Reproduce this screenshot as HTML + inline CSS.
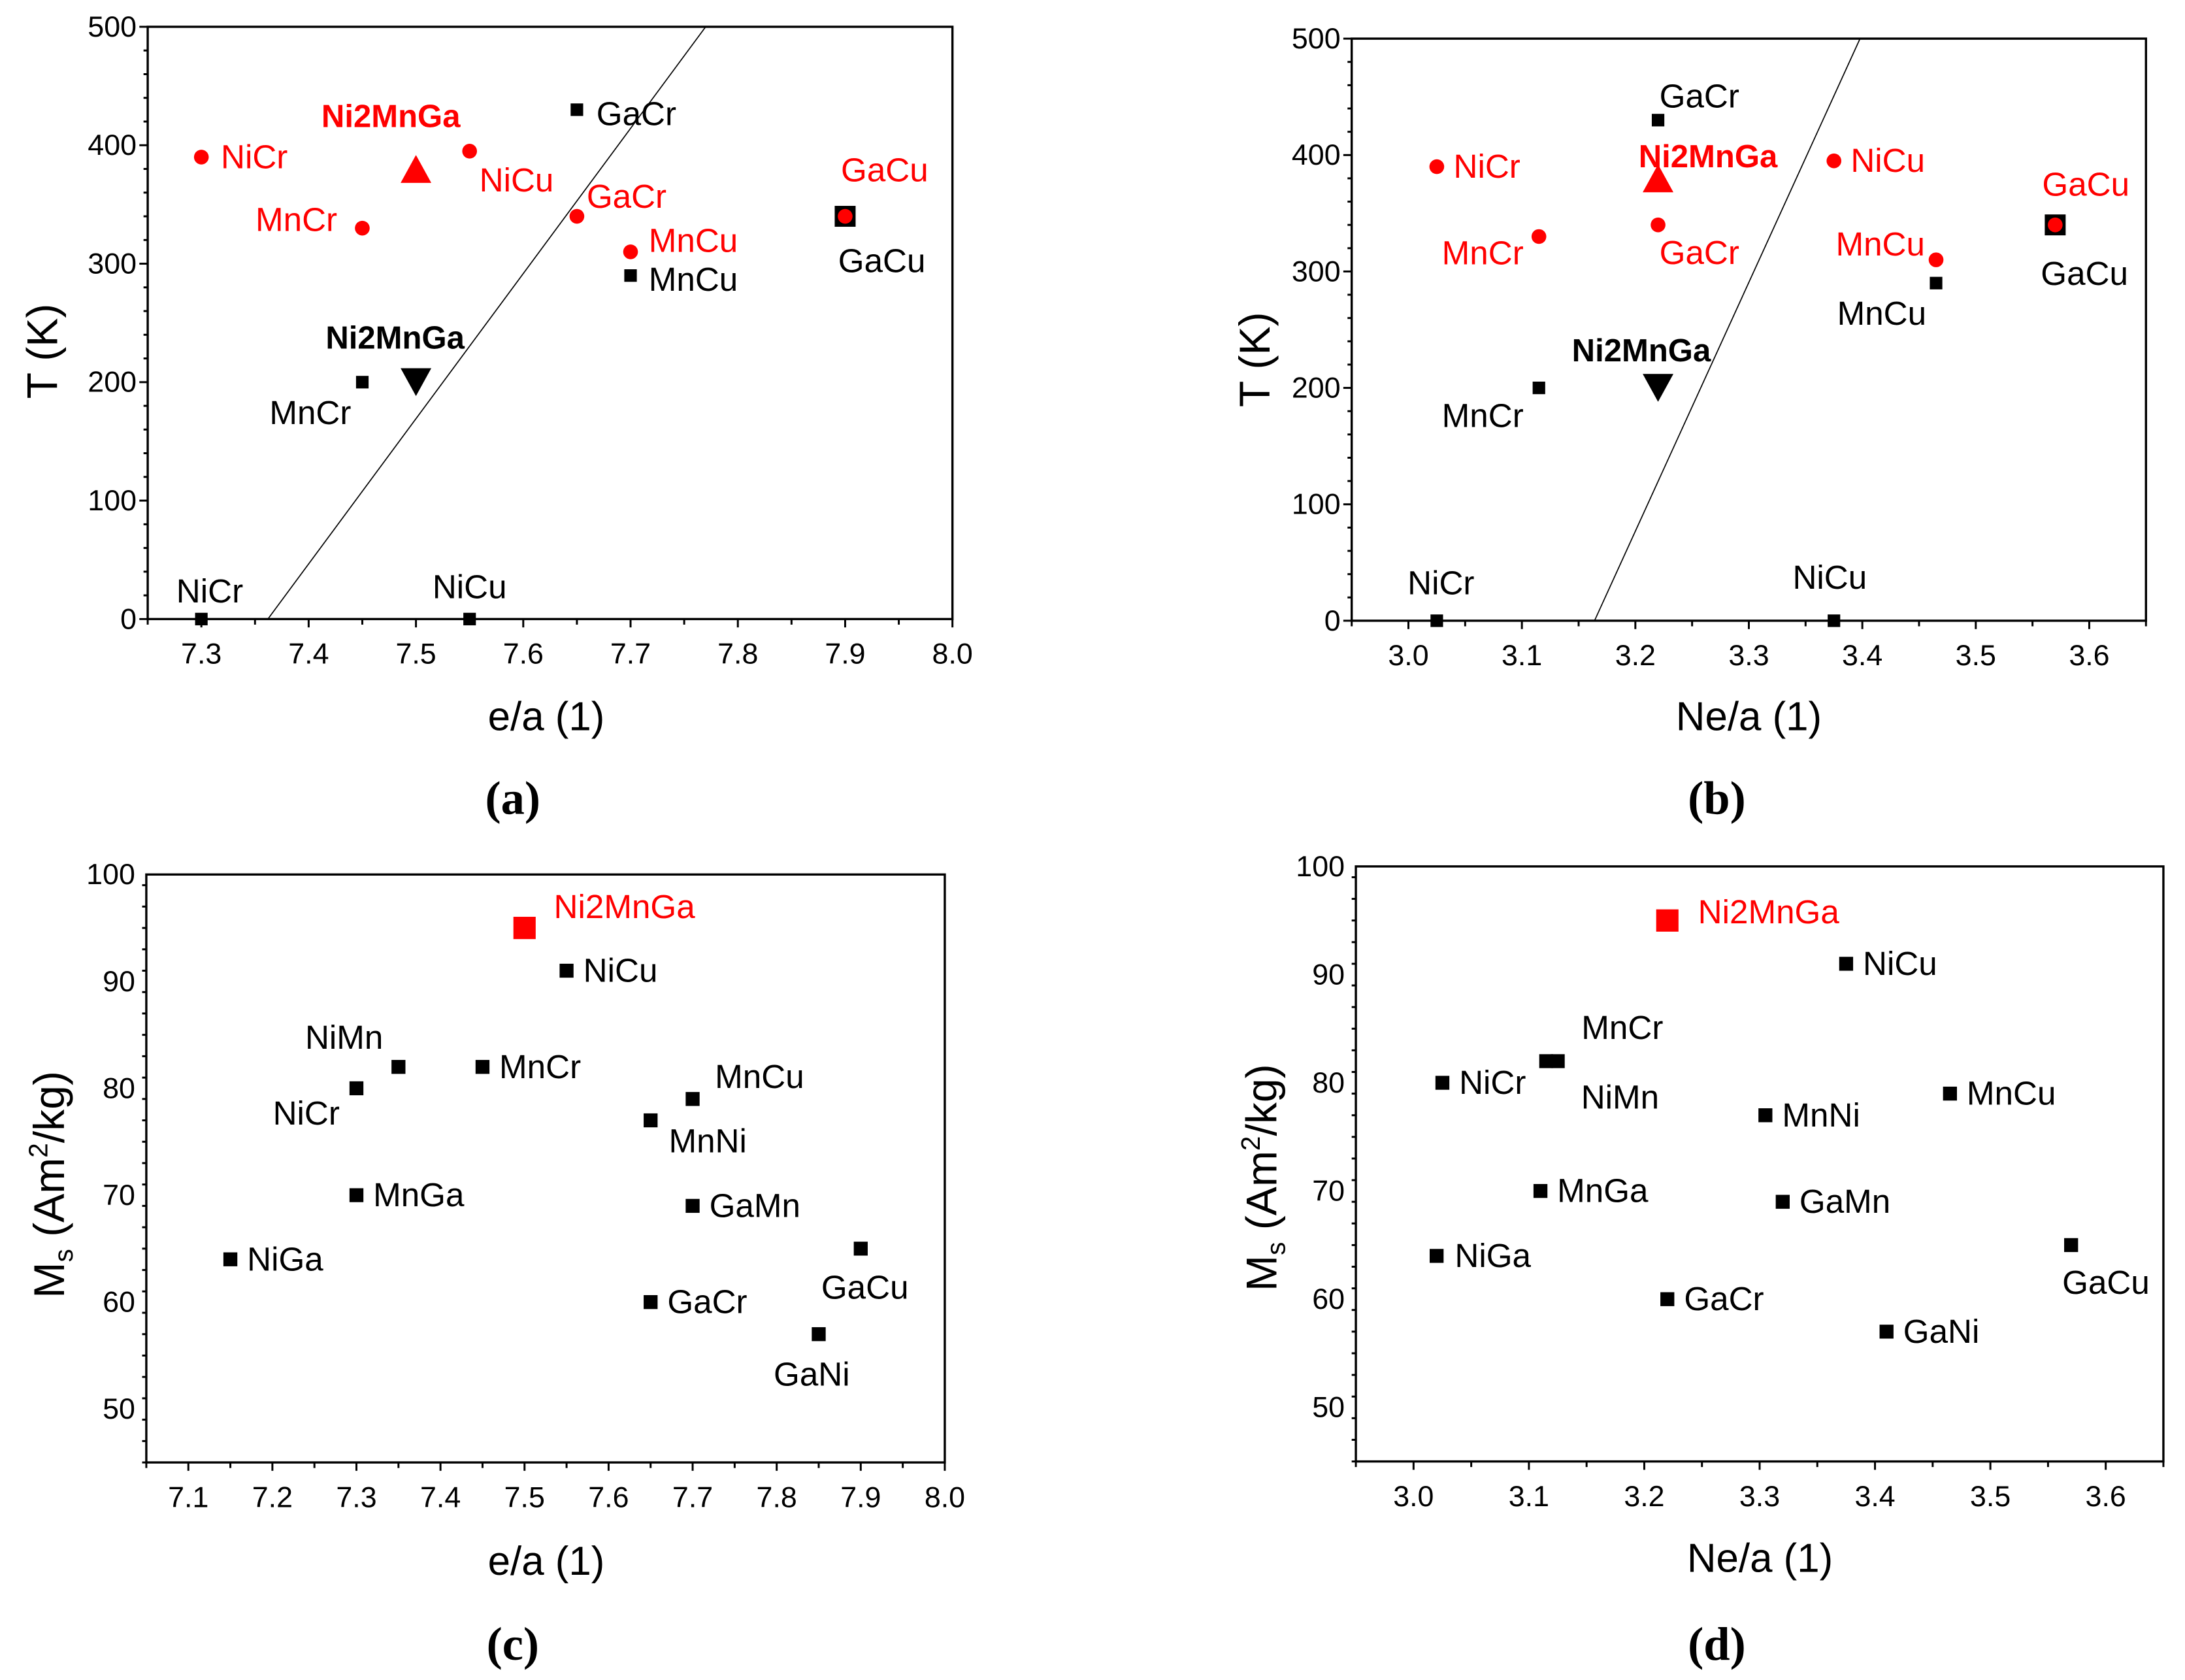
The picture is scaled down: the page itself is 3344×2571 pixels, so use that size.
<!DOCTYPE html>
<html><head><meta charset="utf-8"><style>
html,body{margin:0;padding:0;background:#fff;}
svg{display:block;}
text{font-family:"Liberation Sans",Arial,sans-serif;}
text.serif{font-family:"Liberation Serif",serif;}
</style></head><body>
<svg id="fig" xmlns="http://www.w3.org/2000/svg" width="3344" height="2571" viewBox="0 0 1568 1205.5"></svg>
<script>
// ---------- data ----------
// Panel (a): T vs e/a
const aRedX = [7.3, 7.45, 7.55, 7.65, 7.7, 7.9];
const aRedY = [390, 330, 395, 340, 310, 340];
const aRedLabels = ["NiCr","MnCr","NiCu","GaCr","MnCu","GaCu"];
const aBlkX = [7.65, 7.7, 7.45, 7.3, 7.55];
const aBlkY = [430, 290, 200, 0, 0];
const aBlkLabels = ["GaCr","MnCu","MnCr","NiCr","NiCu"];
const aBigX = [7.9]; const aBigY = [340]; const aBigLabels = ["GaCu"];
const aUpX = [7.5]; const aUpY = [380];
const aDownX = [7.5]; const aDownY = [200];
const aLineX = [7.362, 7.770]; const aLineY = [0, 500];
const aXTicks = [7.3,7.4,7.5,7.6,7.7,7.8,7.9,8.0];
const aXTickLabels = ["7.3","7.4","7.5","7.6","7.7","7.8","7.9","8.0"];
const aYTicks = [0,100,200,300,400,500];
const aYTickLabels = ["0","100","200","300","400","500"];
// Panel (b): T vs Ne/a
const bRedX = [3.025, 3.115, 3.22, 3.375, 3.465, 3.57];
const bRedY = [390, 330, 340, 395, 310, 340];
const bRedLabels = ["NiCr","MnCr","GaCr","NiCu","MnCu","GaCu"];
const bBlkX = [3.22, 3.465, 3.115, 3.025, 3.375];
const bBlkY = [430, 290, 200, 0, 0];
const bBlkLabels = ["GaCr","MnCu","MnCr","NiCr","NiCu"];
const bBigX = [3.57]; const bBigY = [340]; const bBigLabels = ["GaCu"];
const bUpX = [3.22]; const bUpY = [380];
const bDownX = [3.22]; const bDownY = [200];
const bLineX = [3.164, 3.398]; const bLineY = [0, 500];
const bXTicks = [3.0,3.1,3.2,3.3,3.4,3.5,3.6];
const bXTickLabels = ["3.0","3.1","3.2","3.3","3.4","3.5","3.6"];
const bYTicks = [0,100,200,300,400,500];
const bYTickLabels = ["0","100","200","300","400","500"];
// Panel (c): Ms vs e/a
const cX = [7.55, 7.35, 7.45, 7.3, 7.7, 7.65, 7.3, 7.7, 7.15, 7.9, 7.65, 7.85];
const cY = [91, 82, 82, 80, 79, 77, 70, 69, 64, 65, 60, 57];
const cLabels = ["NiCu","NiMn","MnCr","NiCr","MnCu","MnNi","MnGa","GaMn","NiGa","GaCu","GaCr","GaNi"];
const cRefX = [7.5]; const cRefY = [95];
const cXTicks = [7.1,7.2,7.3,7.4,7.5,7.6,7.7,7.8,7.9,8.0];
const cXTickLabels = ["7.1","7.2","7.3","7.4","7.5","7.6","7.7","7.8","7.9","8.0"];
const cYTicks = [50,60,70,80,90,100];
const cYTickLabels = ["50","60","70","80","90","100"];
// Panel (d): Ms vs Ne/a
const dX = [3.375, 3.125, 3.115, 3.025, 3.465, 3.305, 3.11, 3.32, 3.02, 3.57, 3.22, 3.41];
const dY = [91, 82, 82, 80, 79, 77, 70, 69, 64, 65, 60, 57];
const dLabels = ["NiCu","MnCr","NiMn","NiCr","MnCu","MnNi","MnGa","GaMn","NiGa","GaCu","GaCr","GaNi"];
const dRefX = [3.22]; const dRefY = [95];
const dXTicks = [3.0,3.1,3.2,3.3,3.4,3.5,3.6];
const dXTickLabels = ["3.0","3.1","3.2","3.3","3.4","3.5","3.6"];
const dYTicks = [50,60,70,80,90,100];
const dYTickLabels = ["50","60","70","80","90","100"];

// ---------- label offsets (style, px) ----------
const aRedOff = [[14,8,"start"],[-18,2,"end"],[7,29,"start"],[7,-6,"start"],[13,0,"start"],[-3,-25,"start"]];
const aBlkOff = [[14,11,"start"],[13,11,"start"],[-8,30,"end"],[6,-12,"middle"],[0,-15,"middle"]];
const aBigOff = [[-5,40,"start"]];
const bRedOff = [[12,8,"start"],[-11,20,"end"],[1,28,"start"],[12,8,"start"],[-8,-3,"end"],[22,-21,"middle"]];
const bBlkOff = [[1,-9,"start"],[-39,30,"middle"],[-11,28,"end"],[3,-19,"middle"],[-3,-23,"middle"]];
const bBigOff = [[21,43,"middle"]];
const cOff = [[12,8,"start"],[-11,-13,"end"],[12,8,"start"],[-12,26,"end"],[16,-8,"start"],[13,23,"start"],[12,8,"start"],[12,8,"start"],[12,8,"start"],[3,36,"middle"],[12,8,"start"],[-5,37,"middle"]];
const dOff = [[12,8,"start"],[17,-16,"start"],[25,34,"start"],[12,8,"start"],[12,8,"start"],[12,8,"start"],[12,8,"start"],[12,8,"start"],[13,8,"start"],[25,35,"middle"],[12,8,"start"],[12,8,"start"]];

const NS = "http://www.w3.org/2000/svg";
const svg = document.getElementById("fig");
function el(tag, attrs, parent, txt){
  const e = document.createElementNS(NS, tag);
  for (const k in attrs) e.setAttribute(k, attrs[k]);
  if (txt !== undefined) e.textContent = txt;
  (parent || svg).appendChild(e);
  return e;
}
function makeAxes(p){
  const sx = v => p.x0 + (v - p.xmin) / (p.xmax - p.xmin) * (p.x1 - p.x0);
  const sy = v => p.y0 - (v - p.ymin) / (p.ymax - p.ymin) * (p.y0 - p.y1);
  return {sx, sy};
}
function drawFrame(p, ax, g){
  const fr = el("rect",{x:p.x0,y:p.y1,width:p.x1-p.x0,height:p.y0-p.y1,fill:"none",stroke:"#000","stroke-width":1.6},g);
  
  
  for (let v = p.ymin; v <= p.ymax + 1e-9; v += p.yminor){
    const y = ax.sy(v);
    const isMaj = p.yTicks.some(t => Math.abs(t - v) < 1e-6);
    el("line",{x1:p.x0,x2:p.x0-(isMaj?6:3),y1:y,y2:y,stroke:"#000","stroke-width":1.4},g);
  }
  for (let v = p.xmin; v <= p.xmax + 1e-9; v += p.xminor){
    const x = ax.sx(v);
    const isMaj = p.xTicks.some(t => Math.abs(t - v) < 1e-6);
    el("line",{x1:x,x2:x,y1:p.y0,y2:p.y0+(isMaj?6:4),stroke:"#000","stroke-width":1.4},g);
  }
  p.yTicks.forEach((v,i)=>{
    const t = el("text",{x:p.x0-8,y:ax.sy(v)+7,"text-anchor":"end","font-size":21},g,p.yTickLabels[i]);
    
    
  });
  p.xTicks.forEach((v,i)=>{
    const t = el("text",{x:ax.sx(v),y:p.y0+32,"text-anchor":"middle","font-size":21},g,p.xTickLabels[i]);
    
    
  });
}
function pointLabel(g, x, y, off, txt, color, bold, name){
  const t = el("text",{x:x+off[0],y:y+off[1],"text-anchor":off[2],"font-size":bold?23:24,fill:color,"font-weight":bold?"bold":"normal"},g,txt);
  
  
}
function sq(g, x, y, s, color, name){
  const r = el("rect",{x:x-s/2,y:y-s/2,width:s,height:s,fill:color},g);
  
  
  return r;
}
function circ(g, x, y, r, color, name){
  const c = el("circle",{cx:x,cy:y,r:r,fill:color},g);
  
  
}
function tri(g, x, y, up, color, name){
  const h = 20, w = 22;
  const pts = up ? `${x},${y-h/2} ${x-w/2},${y+h/2} ${x+w/2},${y+h/2}` : `${x},${y+h/2} ${x-w/2},${y-h/2} ${x+w/2},${y-h/2}`;
  const t = el("polygon",{points:pts,fill:color},g);
  
  
}

function tPanel(id, p, d){
  const g = el("g",{});
  
  
  const ax = makeAxes(p);
  drawFrame(p, ax, g);
  const ln = el("line",{x1:ax.sx(d.lineX[0]),y1:ax.sy(d.lineY[0]),x2:ax.sx(d.lineX[1]),y2:ax.sy(d.lineY[1]),stroke:"#000","stroke-width":0.8},g);
  
  
  d.bigX.forEach((v,i)=>{ sq(g, ax.sx(v), ax.sy(d.bigY[i]), 15, "#000", "big-square-" + d.bigLabels[i]); });
  d.blkX.forEach((v,i)=>{
    const x = ax.sx(v), y = ax.sy(d.blkY[i]);
    sq(g, x, y, 9, "#000", "black-point-" + d.blkLabels[i]);
    pointLabel(g, x, y, d.blkOff[i], d.blkLabels[i], "#000", false, "black-label-" + d.blkLabels[i]);
  });
  d.bigX.forEach((v,i)=>{
    pointLabel(g, ax.sx(v), ax.sy(d.bigY[i]), d.bigOff[i], d.bigLabels[i], "#000", false, "black-label-" + d.bigLabels[i]);
  });
  d.redX.forEach((v,i)=>{
    const x = ax.sx(v), y = ax.sy(d.redY[i]);
    circ(g, x, y, 5.3, "#f00", "red-point-" + d.redLabels[i]);
    pointLabel(g, x, y, d.redOff[i], d.redLabels[i], "#f00", false, "red-label-" + d.redLabels[i]);
  });
  d.upX.forEach((v,i)=>{ tri(g, ax.sx(v), ax.sy(d.upY[i]), true, "#f00", "ni2mnga-red-triangle"); });
  d.downX.forEach((v,i)=>{ tri(g, ax.sx(v), ax.sy(d.downY[i]), false, "#000", "ni2mnga-black-triangle"); });
  const ux = ax.sx(d.upX[0]), uy = ax.sy(d.upY[0]);
  pointLabel(g, ux, uy, d.upOff, "Ni2MnGa", "#f00", true, "ni2mnga-red-label");
  const dx = ax.sx(d.downX[0]), dy = ax.sy(d.downY[0]);
  pointLabel(g, dx, dy, d.downOff, "Ni2MnGa", "#000", true, "ni2mnga-black-label");
  return g;
}
function mPanel(id, p, d){
  const g = el("g",{});
  
  
  const ax = makeAxes(p);
  drawFrame(p, ax, g);
  d.x.forEach((v,i)=>{
    const x = ax.sx(v), y = ax.sy(d.y[i]);
    sq(g, x, y, 10, "#000", "point-" + d.labels[i]);
    pointLabel(g, x, y, d.off[i], d.labels[i], "#000", false, "label-" + d.labels[i]);
  });
  const rx = ax.sx(d.refX[0]), ry = ax.sy(d.refY[0]);
  sq(g, rx, ry, 16, "#f00", "ni2mnga-red-square");
  pointLabel(g, rx, ry, d.refOff, "Ni2MnGa", "#f00", false, "ni2mnga-label");
  return g;
}
function titles(xt, xcx, xcy, yt, ycx, ycy, pl, pcx, pcy, ms){
  const t = el("text",{x:xcx,y:xcy+10,"text-anchor":"middle","font-size":29},svg,xt);
  
  
  const y = el("text",{x:0,y:0,"text-anchor":"middle","font-size":31,transform:`translate(${ycx+11},${ycy}) rotate(-90)`},svg);
  
  
  if (ms){
    el("tspan",{},y,"M");
    el("tspan",{"font-size":19,dy:6},y,"s");
    el("tspan",{dy:-6},y," (Am");
    el("tspan",{"font-size":19,dy:-12},y,"2");
    el("tspan",{dy:12},y,"/kg)");
  } else y.textContent = yt;
  const p = el("text",{x:pcx,y:pcy+11,"text-anchor":"middle","font-size":34,"font-weight":"bold","class":"serif"},svg,pl);
  
  
}

tPanel("a",{x0:106,x1:683.5,y0:444.2,y1:19.2,xmin:7.25,xmax:8.0,ymin:0,ymax:500,xminor:0.05,yminor:20,
  xTicks:aXTicks,xTickLabels:aXTickLabels,yTicks:aYTicks,yTickLabels:aYTickLabels},
  {redX:aRedX,redY:aRedY,redLabels:aRedLabels,redOff:aRedOff,blkX:aBlkX,blkY:aBlkY,blkLabels:aBlkLabels,blkOff:aBlkOff,
   bigX:aBigX,bigY:aBigY,bigLabels:aBigLabels,bigOff:aBigOff,upX:aUpX,upY:aUpY,downX:aDownX,downY:aDownY,
   lineX:aLineX,lineY:aLineY,upOff:[-18,-30,"middle"],downOff:[-15,-24,"middle"]});
tPanel("b",{x0:970,x1:1540,y0:445.4,y1:27.7,xmin:2.95,xmax:3.65,ymin:0,ymax:500,xminor:0.05,yminor:20,
  xTicks:bXTicks,xTickLabels:bXTickLabels,yTicks:bYTicks,yTickLabels:bYTickLabels},
  {redX:bRedX,redY:bRedY,redLabels:bRedLabels,redOff:bRedOff,blkX:bBlkX,blkY:bBlkY,blkLabels:bBlkLabels,blkOff:bBlkOff,
   bigX:bBigX,bigY:bBigY,bigLabels:bBigLabels,bigOff:bBigOff,upX:bUpX,upY:bUpY,downX:bDownX,downY:bDownY,
   lineX:bLineX,lineY:bLineY,upOff:[-14,-8,"start"],downOff:[-12,-19,"middle"]});
mPanel("c",{x0:105,x1:678,y0:1049.4,y1:627.5,xmin:7.05,xmax:8.0,ymin:45,ymax:100,xminor:0.05,yminor:2,
  xTicks:cXTicks,xTickLabels:cXTickLabels,yTicks:cYTicks,yTickLabels:cYTickLabels},
  {x:cX,y:cY,labels:cLabels,off:cOff,refX:cRefX,refY:cRefY,refOff:[21,-7,"start"]});
mPanel("d",{x0:973,x1:1552.5,y0:1048.7,y1:621.7,xmin:2.95,xmax:3.65,ymin:45,ymax:100,xminor:0.05,yminor:2,
  xTicks:dXTicks,xTickLabels:dXTickLabels,yTicks:dYTicks,yTickLabels:dYTickLabels},
  {x:dX,y:dY,labels:dLabels,off:dOff,refX:dRefX,refY:dRefY,refOff:[22,2,"start"]});

titles("e/a (1)",392,514,"T (K)",30,252,"(a)",368,573,false);
titles("Ne/a (1)",1255,514,"T (K)",900,258,"(b)",1232,573,false);
titles("e/a (1)",392,1120,"",35,850,"(c)",368,1180,true);
titles("Ne/a (1)",1263,1118,"",905,845,"(d)",1232,1180,true);
</script>
</body></html>
